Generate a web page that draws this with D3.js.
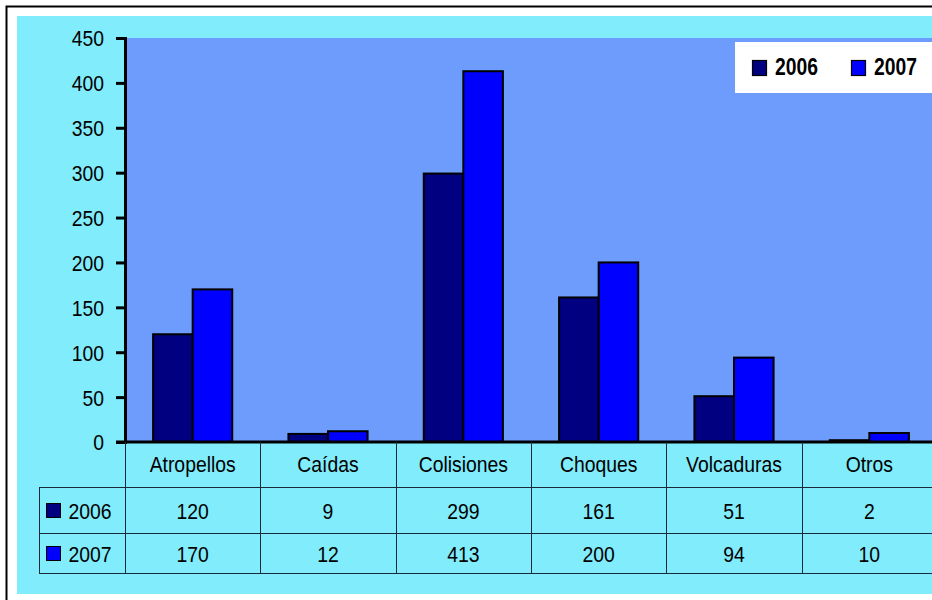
<!DOCTYPE html>
<html><head><meta charset="utf-8">
<script src="https://cdn.jsdelivr.net/npm/d3@7"></script>
<style>
html,body{margin:0;padding:0;background:#fff;overflow:hidden;}
text{font-family:"Liberation Sans","Arial",sans-serif;fill:#000;}
</style></head>
<body>
<svg id="chart" width="932" height="600"></svg>
<script>
const categories = ["Atropellos","Caídas","Colisiones","Choques","Volcaduras","Otros"];
const seriesNames = ["2006","2007"];
const values2006 = [120, 9, 299, 161, 51, 2];
const values2007 = [170, 12, 413, 200, 94, 10];
const yTicks = [0,50,100,150,200,250,300,350,400,450];
const colors = {"2006":"#000080","2007":"#0000ff"};

const svg = d3.select("#chart");
const W = 932, H = 600;
const SX = 0.88; // horizontal condensing to mimic a narrow font

function narrowText(parent, x, y, str, opts) {
  opts = opts || {};
  const t = parent.append("text")
    .attr("transform", `translate(${x},${y}) scale(${opts.sx || SX},1)`)
    .attr("text-anchor", opts.anchor || "start")
    .attr("font-size", opts.size || 22)
    .text(str);
  if (opts.bold) t.attr("font-weight", "bold");
  return t;
}

// outer frame and backgrounds
svg.append("rect").attr("x",0).attr("y",0).attr("width",W).attr("height",H).attr("fill","#fff");
svg.append("rect").attr("x",17).attr("y",16).attr("width",W).attr("height",578).attr("fill","#80ecfc");
svg.append("rect").attr("x",6.5).attr("y",6.5).attr("width",W+20).attr("height",H+20)
  .attr("fill","none").attr("stroke","#000").attr("stroke-width",2);

const plotL = 125, plotR = 937, plotT = 38, plotB = 442;
svg.append("rect").attr("x",plotL).attr("y",plotT).attr("width",plotR-plotL).attr("height",plotB-plotT).attr("fill","#6d9cfc");

const y = d3.scaleLinear().domain([0,450]).range([plotB, plotT]);
const x = d3.scaleBand().domain(categories).range([plotL, plotR]).paddingInner(0).paddingOuter(0);
const xs = d3.scaleBand().domain(seriesNames).range([0, x.bandwidth()]).paddingInner(0).paddingOuter(0.71);

const data = {"2006": values2006, "2007": values2007};

// bars
seriesNames.forEach(s => {
  svg.append("g").selectAll("rect").data(categories).join("rect")
    .attr("x", (c) => x(c) + xs(s))
    .attr("y", (c,i) => y(data[s][i]))
    .attr("width", xs.bandwidth())
    .attr("height", (c,i) => plotB - y(data[s][i]))
    .attr("fill", colors[s])
    .attr("stroke", "#000").attr("stroke-width", 2);
});

// y axis
const yAxis = d3.axisLeft(y).tickValues(yTicks).tickSize(9).tickPadding(12).tickFormat(d3.format("d"));
const ga = svg.append("g").attr("transform", `translate(${plotL},0)`).call(yAxis);
ga.select(".domain").attr("stroke","#000").attr("stroke-width",3);
ga.selectAll(".tick line").attr("stroke","#000").attr("stroke-width",3);
ga.selectAll(".tick text")
  .attr("font-size",22).attr("dy","0.36em")
  .attr("x", -21 / SX)
  .attr("transform", `scale(${SX},1)`)
  .style("font-family",'"Liberation Sans",Arial,sans-serif').attr("fill","#000");

// zero baseline
svg.append("line").attr("x1",plotL-9).attr("x2",plotR).attr("y1",plotB).attr("y2",plotB)
  .attr("stroke","#000").attr("stroke-width",3);

// data table
const rowY = [442, 487, 533, 573];
const tableLeft = 39;
const g = svg.append("g").attr("stroke","#1a2a3a").attr("stroke-width",1);
[1,2,3].forEach(r => {
  g.append("line").attr("x1",tableLeft).attr("x2",plotR).attr("y1",rowY[r]+0.5).attr("y2",rowY[r]+0.5);
});
g.append("line").attr("x1",tableLeft+0.5).attr("x2",tableLeft+0.5).attr("y1",rowY[1]).attr("y2",rowY[3]);
g.append("line").attr("x1",plotL+0.5).attr("x2",plotL+0.5).attr("y1",rowY[0]).attr("y2",rowY[3]);
categories.forEach(c => {
  const xe = Math.round(x(c) + x.bandwidth()) + 0.5;
  g.append("line").attr("x1",xe).attr("x2",xe).attr("y1",rowY[0]).attr("y2",rowY[3]);
});

// header labels
const hdr = svg.append("g");
categories.forEach(c => narrowText(hdr, x(c) + x.bandwidth()/2, 472, c, {anchor:"middle"}));

// value rows
const rowBase = [519, 562];
seriesNames.forEach((s, si) => {
  const b = rowBase[si];
  svg.append("rect").attr("x",46.5).attr("y",b-15.5).attr("width",14).attr("height",14)
    .attr("fill",colors[s]).attr("stroke","#000").attr("stroke-width",1);
  narrowText(svg, 68.5, b, s);
  const rg = svg.append("g");
  categories.forEach((c, i) => narrowText(rg, x(c) + x.bandwidth()/2, b, String(data[s][i]), {anchor:"middle"}));
});

// legend
const lg = svg.append("g");
lg.append("rect").attr("x",735).attr("y",42).attr("width",210).attr("height",51).attr("fill","#fff");
const legX = [752, 851];
seriesNames.forEach((s, i) => {
  lg.append("rect").attr("x",legX[i]+0.5).attr("y",60.5).attr("width",14).attr("height",15)
    .attr("fill",colors[s]).attr("stroke","#000").attr("stroke-width",1.2);
  narrowText(lg, legX[i]+23, 75, s, {bold:true, size:23, sx:0.84});
});
</script>
</body></html>
